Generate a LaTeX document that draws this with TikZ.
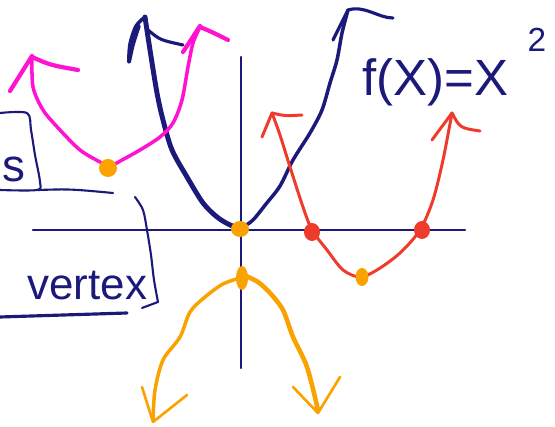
\documentclass[tikz,border=0pt]{standalone}
\usepackage{fontspec}
\setmainfont{Liberation Sans}
\usepackage{tikz}
\definecolor{inknavy}{HTML}{1B1A7A}
\definecolor{inkpink}{HTML}{FF12D0}
\definecolor{inkred}{HTML}{EE3B2B}
\definecolor{inkorange}{HTML}{F9A200}
\begin{document}
\begin{tikzpicture}[x=0.2mm,y=-0.2mm,line cap=round,line join=round,
  navyline/.style={inknavy, line width=1.2pt},
  pinkline/.style={inkpink, line width=2pt},
  redline/.style={inkred, line width=1.7pt},
  orangeline/.style={inkorange, line width=2pt}]
  \useasboundingbox (0,0) rectangle (555,427);
  \clip (0,0) rectangle (555,427);

  % axes
  \draw[navyline] (33,230) -- (465,230);
  \draw[navyline] (241,57) -- (241,368);

  % f(x)=x^2
  \draw[navyline, line width=2.8pt, smooth] plot coordinates {(145,17) (150,50) (157,93) (163,120) (172,150) (187,177) (203,203) (217,217) (230,225) (240,228)};
  \draw[navyline, line width=2pt, smooth] plot coordinates {(243,227) (253,220) (266,204) (280,186) (293,160) (310,133) (322,110) (330,83) (337,60) (342,33) (348,10)};
  \draw[navyline, line width=2pt, smooth] plot coordinates {(145,17) (136,26) (130,44) (129,62) (133,45) (139,26)};
  \draw[navyline, line width=1.8pt] (148,30) .. controls (160,40) .. (183,45);
  \draw[navyline, line width=1.8pt] (348,10) -- (333,40);
  \draw[navyline, line width=1.8pt] (348,10) .. controls (365,5) and (378,18) .. (393,18);

  % shifted up and left
  \draw[pinkline, smooth] plot coordinates {(32,57) (33,87) (43,110) (60,130) (80,150) (100,162) (110,166) (122,160) (140,150) (160,137) (173,123) (182,100) (188,67) (193,43) (200,27)};
  \draw[pinkline, line width=2.4pt] (32,56) -- (10,91);
  \draw[pinkline, line width=2.4pt] (32,57) .. controls (50,65) .. (78,70);
  \draw[pinkline, line width=2.4pt] (200,26) -- (183,52);
  \draw[pinkline, line width=2.4pt] (200,27) .. controls (212,32) .. (228,40);

  % shifted right and down
  \draw[redline, smooth] plot coordinates {(272,113) (280,135) (290,167) (303,207) (312,230) (327,250) (343,270) (360,277) (377,270) (400,253) (420,230) (433,200) (443,160) (452,113)};
  \draw[redline] (272,113) -- (262,137);
  \draw[redline] (272,113) .. controls (285,116) .. (302,115);
  \draw[redline] (452,113) -- (432,140);
  \draw[redline] (452,113) .. controls (460,128) .. (480,131);

  % reflected
  \draw[orangeline, smooth] plot coordinates {(243,277) (223,284) (205,297) (190,312) (180,337) (163,360) (155,390) (153,420)};
  \draw[orangeline, line width=2.6pt, smooth] plot coordinates {(246,276) (258,282) (270,293) (283,310) (293,337) (307,367) (318,410)};
  \draw[orangeline, line width=1.5pt] (153,422) -- (142,387);
  \draw[orangeline, line width=1.5pt] (153,422) -- (187,395);
  \draw[orangeline, line width=1.5pt] (318,413) -- (293,387);
  \draw[orangeline, line width=1.5pt] (318,413) -- (340,377);

  % vertices and x-intercepts
  \fill[inkorange] (108,168) circle (9);
  \fill[inkorange] (240,229) ellipse (9 and 8);
  \fill[inkorange] (242,278) ellipse (6 and 12);
  \fill[inkorange] (362,277) ellipse (6.5 and 9);
  \fill[inkred] (312,232) ellipse (8 and 9);
  \fill[inkred] (422,230) ellipse (8 and 9);

  % notes on the left
  \node[inknavy, anchor=base west, inner sep=0pt, font=\fontsize{26}{26}\selectfont] (sletter) at (2,182) {s};
  \draw[navyline, smooth] plot coordinates {(0,113) (27,113) (31,130) (35,155) (40,182) (37,190) (0,190)};
  \draw[navyline] (38,190) .. controls (70,189) .. (113,193);
  \node[inknavy, anchor=base west, inner sep=0pt, font=\fontsize{25}{25}\selectfont] (vertexnote) at (27,300) {vertex};
  \draw[navyline, smooth] plot coordinates {(135,197) (143,210) (147,230) (151,255) (154,280) (158,302)};
  \draw[navyline] (158,302) -- (142,308);
  \draw[navyline, line width=1.8pt] (0,317) -- (127,313);

  % label
  \node[inknavy, anchor=base west, inner sep=0pt, font=\fontsize{29}{29}\selectfont] (rule) at (362,96) {f(X)=X};
  \node[inknavy, inner sep=0pt, font=\fontsize{19}{19}\selectfont] (power) at (537,40) {2};
\end{tikzpicture}
\end{document}
